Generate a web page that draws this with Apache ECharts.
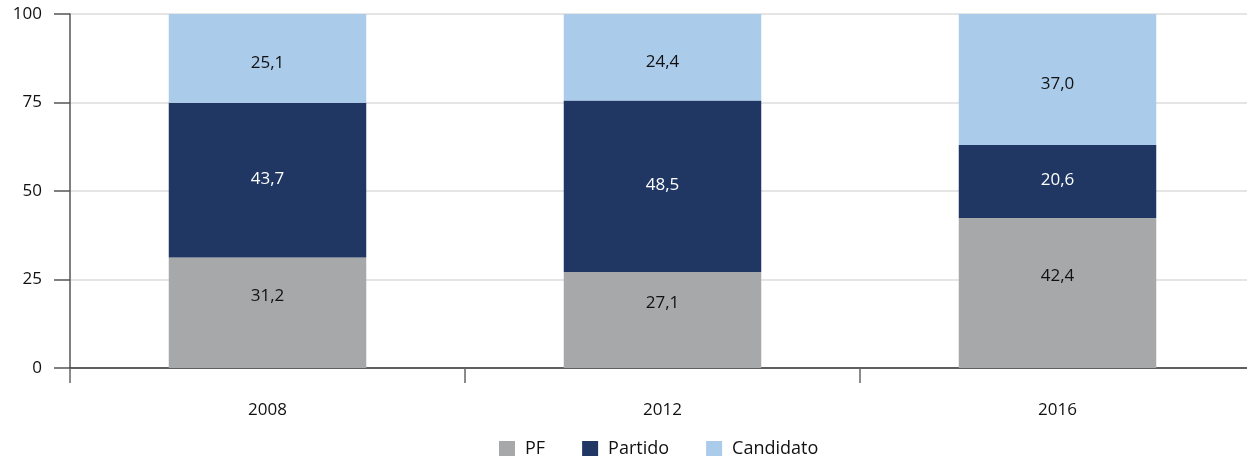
<!DOCTYPE html>
<html><head><meta charset="utf-8">
<script src="https://cdn.jsdelivr.net/npm/echarts@6/dist/echarts.min.js"></script>
<style>html,body{margin:0;padding:0;background:#fff;overflow:hidden;width:1247px;height:456px}#c{width:1255px;height:456px}</style>
</head><body><div id="c"></div>
<script>
var categories = ['2008', '2012', '2016'];
var pf = [31.2, 27.1, 42.4];
var partido = [43.7, 48.5, 20.6];
var candidato = [25.1, 24.4, 37.0];
var yTicks = [0, 25, 50, 75, 100];

var font = 'Open Sans';
function fmt(p){ return p.value.toFixed(1).replace('.', ','); }
var chart = echarts.init(document.getElementById('c'));
chart.setOption({
  animation: false,
  textStyle: {fontFamily: font},
  grid: {left: 70, top: 14, right: 0, height: 354, containLabel: false},
  legend: {
    top: 435, left: 494, itemWidth: 16, itemHeight: 16, itemGap: 37,
    icon: 'rect',
    textStyle: {fontFamily: font, fontSize: 18, color: '#111', padding: [0, 0, 0, 5]},
    data: ['PF', 'Partido', 'Candidato']
  },
  xAxis: {
    type: 'category', data: categories,
    axisLine: {lineStyle: {color: '#333', width: 1.5}},
    axisTick: {show: true, length: 15, lineStyle: {color: '#666', width: 1.5}},
    axisLabel: {fontFamily: font, fontSize: 17, color: '#111', margin: 34}
  },
  yAxis: {
    type: 'value', min: yTicks[0], max: yTicks[yTicks.length - 1], interval: 25,
    axisLine: {show: true, lineStyle: {color: '#555', width: 1.5}},
    axisTick: {show: true, length: 16, lineStyle: {color: '#555', width: 1.5}},
    axisLabel: {fontFamily: font, fontSize: 17, color: '#111', margin: 28},
    splitLine: {lineStyle: {color: '#dcdcdc', width: 1.5}}
  },
  series: [
    {name: 'PF', type: 'bar', stack: 's', data: pf, barWidth: '50%',
     itemStyle: {color: '#a7a8aa'},
     label: {show: true, position: 'inside', offset: [0, -17], formatter: fmt, fontFamily: font, fontSize: 17, color: '#111'}},
    {name: 'Partido', type: 'bar', stack: 's', data: partido,
     itemStyle: {color: '#203764'},
     label: {show: true, position: 'inside', offset: [0, -1], formatter: fmt, fontFamily: font, fontSize: 17, color: '#fff'}},
    {name: 'Candidato', type: 'bar', stack: 's', data: candidato,
     itemStyle: {color: '#abcbeb'},
     label: {show: true, position: 'inside', offset: [0, 5], formatter: fmt, fontFamily: font, fontSize: 17, color: '#111'}}
  ]
});
</script></body></html>
